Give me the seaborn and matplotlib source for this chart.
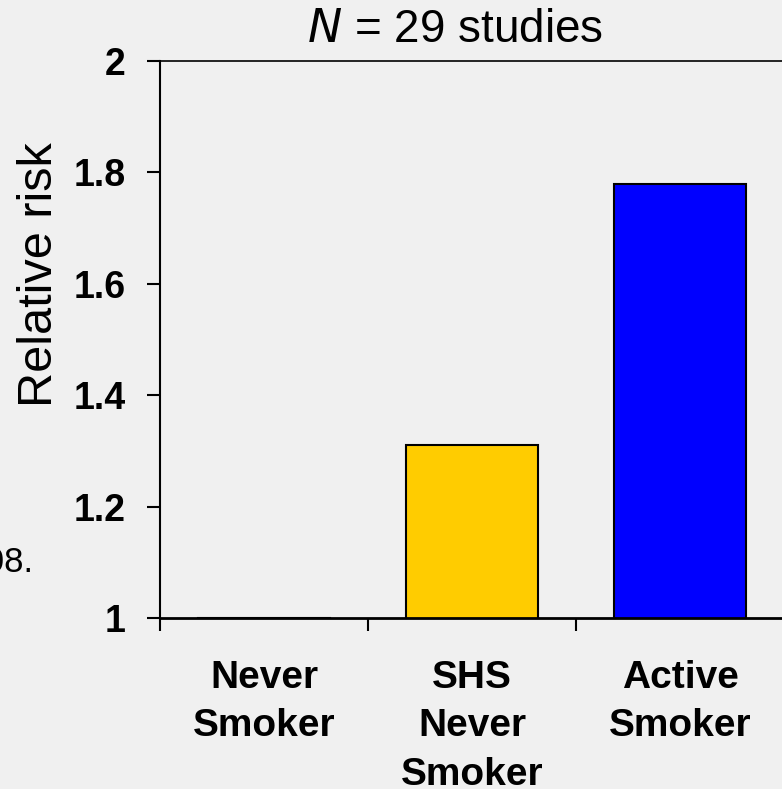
"""Relative risk by smoking status (N = 29 studies) - bar chart recreation."""

import matplotlib
matplotlib.use("Agg")
import matplotlib.pyplot as plt
import seaborn as sns

CATEGORIES = ["Never\nSmoker", "SHS\nNever\nSmoker", "Active\nSmoker"]
RELATIVE_RISK = [1.0, 1.31, 1.78]
BAR_COLORS = ["#F0F0F0", "#FFCC00", "#0000FF"]
Y_TICKS = [1, 1.2, 1.4, 1.6, 1.8, 2]
Y_TICK_LABELS = ["1", "1.2", "1.4", "1.6", "1.8", "2"]

BG = "#F0F0F0"
W, H = 782, 789

sns.set_style("white")
plt.rcParams["font.family"] = ["Liberation Sans", "DejaVu Sans"]
plt.rcParams["text.color"] = "black"
plt.rcParams["xtick.color"] = "black"
plt.rcParams["ytick.color"] = "black"

fig = plt.figure(figsize=(W / 100, H / 100), dpi=100, facecolor=BG)
ax = fig.add_axes([160 / W, 1 - 618 / H, 624 / W, 557 / H])
ax.set_facecolor(BG)

sns.barplot(x=CATEGORIES, y=RELATIVE_RISK, hue=CATEGORIES, palette=BAR_COLORS,
            saturation=1, legend=False, width=0.635, edgecolor="black",
            linewidth=1.5, ax=ax)

ax.set_ylim(1, 2)
ax.set_xlim(-0.5, 2.5)
ax.set_yticks(Y_TICKS)
ax.set_yticklabels(Y_TICK_LABELS, fontsize=27, fontweight="bold")
ax.tick_params(axis="y", left=True, direction="out", length=9.5, width=1.5,
               pad=15, color="black", labelcolor="black")

# category labels at centres, tick marks at category boundaries
ax.set_xticks(range(len(CATEGORIES)))
ax.set_xticklabels(CATEGORIES, fontsize=28, fontweight="bold", linespacing=1.45)
ax.tick_params(axis="x", which="major", bottom=True, length=0, pad=30,
               labelcolor="black")
ax.set_xticks([-0.5, 0.5, 1.5, 2.5], minor=True)
ax.tick_params(axis="x", which="minor", bottom=True, direction="out", length=9.5,
               width=1.5, color="black")

ax.set_xlabel("")
ax.set_ylabel("")
for side in ["left", "bottom", "top", "right"]:
    ax.spines[side].set_visible(True)
    ax.spines[side].set_color("black")
ax.spines["left"].set_linewidth(1.5)
ax.spines["bottom"].set_linewidth(2)
ax.spines["top"].set_linewidth(1.2)
ax.spines["right"].set_linewidth(1.2)

fig.text(455 / W, 1 - 30 / H, r"$\it{N}$ = 29 studies", fontsize=33,
         ha="center", va="center", color="black")
fig.text(40 / W, 1 - 275 / H, "Relative risk", fontsize=35, rotation=90,
         ha="center", va="center", color="black")
fig.text(33 / W, 1 - 572 / H, "2008.", fontsize=25, ha="right", va="baseline",
         color="black")

fig.savefig("out.png", dpi=100, facecolor=BG)
